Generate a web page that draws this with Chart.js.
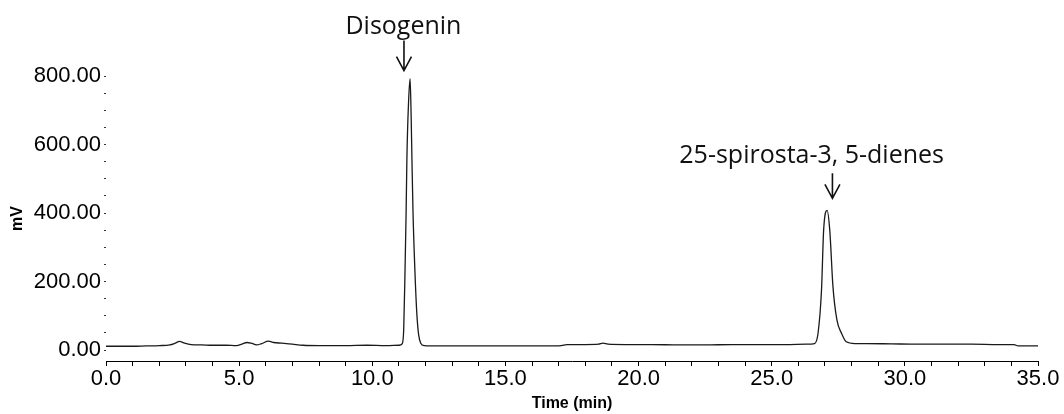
<!DOCTYPE html>
<html>
<head>
<meta charset="utf-8">
<title>Chromatogram</title>
<script src="https://cdn.jsdelivr.net/npm/chart.js@4"></script>
<style>
    html, body { margin: 0; padding: 0; background: #fff; }
    #wrap { width: 1064px; height: 414px; position: relative; }
</style>
</head>
<body>
<div id="wrap"><canvas id="chromChart"></canvas></div>
<script>
/***************************************************/
/********************** DATA ***********************/
/***************************************************/
// retention time (min) and detector signal (mV)
const timeMin = [
    0, 0.5, 1.0, 1.5, 2.0, 2.4, 2.6, 2.76, 2.95, 3.2, 3.6, 4.0, 4.5, 4.9,
    5.1, 5.29, 5.45, 5.66, 5.85, 6.1, 6.3, 6.6, 7.0, 7.4, 8.0, 9.0, 9.8, 10.5,
    11.0, 11.12, 11.18, 11.23, 11.27, 11.3, 11.36, 11.42, 11.46, 11.49, 11.53,
    11.6, 11.67, 11.74, 11.82, 11.95,
    12.5, 13.5, 14.5, 15.5, 16.5, 17.1, 17.3, 18.0, 18.5, 18.66, 18.85, 19.5,
    20.5, 21.5, 22.5, 23.5, 24.5, 25.5, 26.3,
    26.61, 26.74, 26.87, 26.95, 27.08, 27.18, 27.3, 27.45, 27.62, 27.8, 28.12,
    28.55, 29.5, 30.5, 31.5, 32.5, 33.5, 34.1, 34.25, 35.0
];
const signalMv = [
    11, 11, 11, 12, 13, 15, 20, 25, 20, 16, 15, 14, 14, 13,
    17, 22, 20, 15, 19, 26, 22, 20, 17, 14, 13, 13, 14, 13,
    14, 18, 60, 233, 400, 560, 720, 792, 680, 554, 400,
    233, 110, 45, 20, 13,
    12, 12, 12, 12, 12, 13, 16, 16, 17, 20, 17, 16,
    16, 15, 15, 16, 16, 16, 17,
    19, 49, 175, 350, 408, 350, 185, 87, 49, 24, 19,
    19, 18, 17, 17, 17, 16, 16, 12, 12
];
const peakNames = ['Disogenin', '25-spirosta-3, 5-dienes'];
const peakTimes = [11.42, 27.08];

const yTickValues = [0, 50, 100, 150, 200, 250, 300, 350, 400, 450, 500, 550, 600, 650, 700, 750, 800];

/***************************************************/
/************** PEAK LABEL PLUGIN ******************/
/***************************************************/
// label text + arrow placed in data units over each peak
const peakLabelSpots = [
    { textX: 11.17, textY: 923, arrowX: 11.19, arrowTop: 904, arrowTip: 816 },
    { textX: 26.50, textY: 545, arrowX: 27.28, arrowTop: 516, arrowTip: 443 }
];

const peakLabelPlugin = {
    id: 'peakLabels',
    afterDatasetsDraw(chart) {
        const ctx = chart.ctx;
        const xs = chart.scales.x;
        const ys = chart.scales.y;
        ctx.save();
        ctx.fillStyle = '#111';
        ctx.strokeStyle = '#111';
        ctx.lineWidth = 1.6;
        ctx.font = '25px "Open Sans"';
        ctx.textAlign = 'center';
        ctx.textBaseline = 'alphabetic';
        peakNames.forEach(function (name, i) {
            const spot = peakLabelSpots[i];
            ctx.fillText(name, xs.getPixelForValue(spot.textX), ys.getPixelForValue(spot.textY));

            const ax = xs.getPixelForValue(spot.arrowX);
            const top = ys.getPixelForValue(spot.arrowTop);
            const tip = ys.getPixelForValue(spot.arrowTip);
            ctx.beginPath();
            ctx.moveTo(ax, top);
            ctx.lineTo(ax, tip);
            ctx.moveTo(ax - 7.5, tip - 14);
            ctx.lineTo(ax, tip);
            ctx.lineTo(ax + 7.5, tip - 14);
            ctx.stroke();
        });
        ctx.restore();
    }
};

/***************************************************/
/****************** DRAW CHART *********************/
/***************************************************/
Chart.defaults.font.family = '"Liberation Sans", Arial, sans-serif';
Chart.defaults.color = '#000';

const points = timeMin.map(function (t, i) { return { x: t, y: signalMv[i] }; });

const canvas = document.getElementById('chromChart').getContext('2d');
const chromChart = new Chart(canvas, {
    type: 'line',
    data: {
        datasets: [{
            label: 'Signal',
            data: points,
            borderColor: '#1a1a1a',
            borderWidth: 1.3,
            pointRadius: 0,
            fill: false,
            cubicInterpolationMode: 'monotone'
        }]
    },
    options: {
        responsive: true,
        maintainAspectRatio: false,
        animation: false,
        layout: {
            padding: { top: 76, right: 26, left: 0, bottom: 0 }
        },
        plugins: {
            legend: { display: false },
            tooltip: { enabled: false }
        },
        scales: {
            x: {
                type: 'linear',
                min: 0,
                max: 35,
                afterFit: function (scale) { scale.height = 53; },
                border: { display: true, color: '#000', width: 1 },
                grid: {
                    drawOnChartArea: false,
                    drawTicks: true,
                    tickLength: 5,
                    color: '#000'
                },
                ticks: {
                    stepSize: 1,
                    autoSkip: false,
                    maxRotation: 0,
                    padding: 0,
                    font: { size: 22 },
                    callback: function (value) {
                        return value % 5 === 0 ? value.toFixed(1) : '';
                    }
                },
                title: {
                    display: true,
                    text: 'Time (min)',
                    font: { size: 16, weight: 'bold' },
                    padding: { top: 0, bottom: 1 }
                }
            },
            y: {
                min: -32,
                max: 800,
                afterFit: function (scale) { scale.width = 106; },
                afterBuildTicks: function (scale) {
                    scale.ticks = yTickValues.map(function (v) { return { value: v }; });
                },
                border: { display: false },
                grid: {
                    drawOnChartArea: false,
                    drawTicks: true,
                    tickLength: 2,
                    color: '#333'
                },
                ticks: {
                    autoSkip: false,
                    padding: 3,
                    font: { size: 22 },
                    callback: function (value) {
                        return value % 200 === 0 ? value.toFixed(2) : '';
                    }
                },
                title: {
                    display: true,
                    text: 'mV',
                    font: { size: 16, weight: 'bold' },
                    padding: { top: 8, bottom: 0 }
                }
            }
        }
    },
    plugins: [peakLabelPlugin]
});
</script>
</body>
</html>
